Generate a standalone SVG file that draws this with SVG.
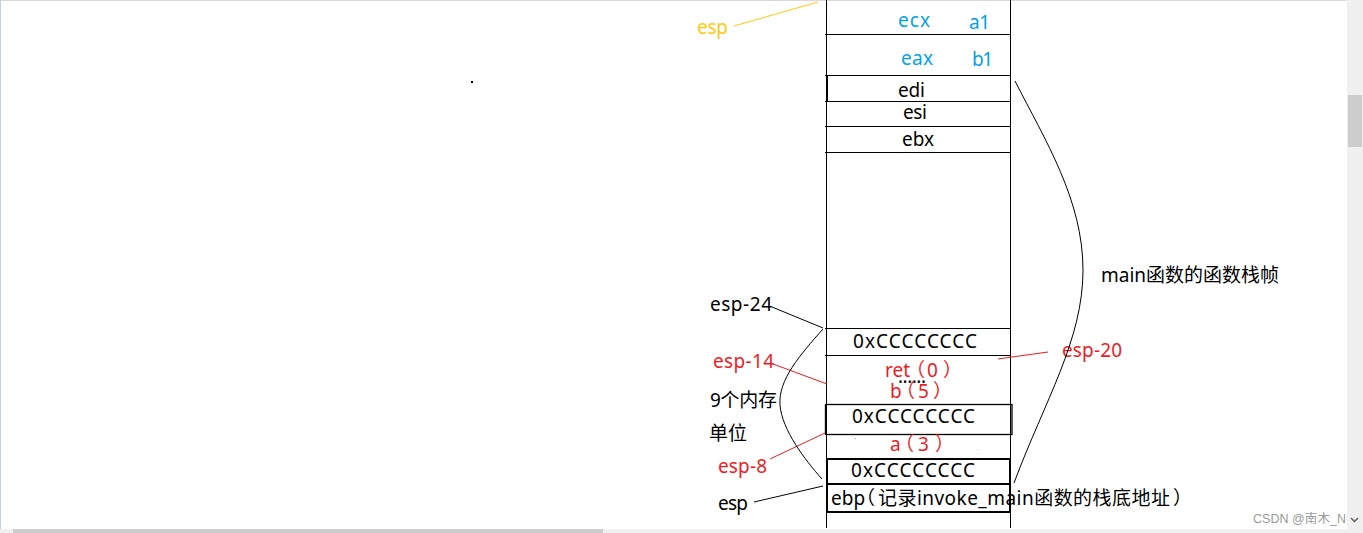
<svg xmlns="http://www.w3.org/2000/svg" width="1363" height="533" viewBox="0 0 1363 533">
<style>
.t{font-family:"Noto Sans","Noto Sans CJK SC",sans-serif;font-size:19px;fill:#000}
.r{fill:#ed1c24}
.b{fill:#00a2e8}
.y{fill:#ffc90e}
.ln{stroke:#000;stroke-width:1;fill:none}
.th{stroke:#000;stroke-width:2;fill:none}
.rl{stroke:#ed1c24;stroke-width:1;fill:none}
</style>
<rect width="1363" height="533" fill="#fff"/>
<line x1="0" y1="0.5" x2="1347" y2="0.5" stroke="#d9d9d9"/>
<line x1="0.5" y1="0" x2="0.5" y2="529" stroke="#c8d0de"/>
<rect x="471" y="81" width="2" height="2" fill="#000"/>

<g id="column">
<line class="ln" x1="826.5" y1="0" x2="826.5" y2="528"/>
<line class="ln" x1="1010.5" y1="0" x2="1010.5" y2="528"/>
</g>
<g id="cell-ecx">
<line class="ln" x1="825" y1="34.5" x2="1011" y2="34.5"/>
<text class="t b" x="898" y="27" textLength="32">ecx</text>
<text class="t b" x="969" y="29" textLength="21">a1</text>
</g>
<g id="cell-eax">
<text class="t b" x="901" y="65" textLength="32">eax</text>
<text class="t b" x="972" y="66" textLength="21">b1</text>
</g>
<g id="cell-edi">
<line class="ln" x1="825" y1="75.5" x2="1011" y2="75.5"/>
<line class="th" x1="827" y1="75" x2="827" y2="102"/>
<text class="t" x="898" y="97" textLength="27">edi</text>
</g>
<g id="cell-esi">
<line class="ln" x1="825" y1="101.5" x2="1011" y2="101.5"/>
<text class="t" x="903" y="119" textLength="24">esi</text>
</g>
<g id="cell-ebx">
<line class="ln" x1="825" y1="126.5" x2="1011" y2="126.5"/>
<line class="ln" x1="825" y1="152.5" x2="1011" y2="152.5"/>
<text class="t" x="902" y="146" textLength="32">ebx</text>
</g>
<g id="cell-cc1">
<line class="ln" x1="825" y1="328.5" x2="1011" y2="328.5"/>
<line class="ln" x1="825" y1="355.5" x2="1011" y2="355.5"/>
<text class="t" x="853" y="348" textLength="124">0xCCCCCCCC</text>
</g>
<g id="cell-ret-b">
<text class="t r" x="885" y="377">ret<tspan x="906">（</tspan><tspan x="927">0</tspan><tspan x="943">）</tspan></text>
<text class="t" x="898" y="383" textLength="28">......</text>
<text class="t r" x="890" y="398">b<tspan x="896">（</tspan><tspan x="918">5</tspan><tspan x="933">）</tspan></text>
</g>
<g id="cell-cc2">
<rect x="825.5" y="404.5" width="186.5" height="30" fill="none" stroke="#000" stroke-width="1.3"/>
<text class="t" x="852" y="423" textLength="123">0xCCCCCCCC</text>
</g>
<g id="cell-a">
<text class="t r" x="890" y="451">a<tspan x="895">（</tspan><tspan x="918">3</tspan><tspan x="935">）</tspan></text>
<rect x="855" y="438" width="1" height="1" fill="#f08080"/>
<rect x="977" y="449" width="1" height="1" fill="#9fe0f5"/>
</g>
<g id="cell-cc3">
<rect x="827" y="459" width="183" height="25" class="th"/>
<text class="t" x="851" y="477" textLength="124">0xCCCCCCCC</text>
</g>
<g id="cell-ebp">
<rect x="827" y="484" width="183" height="28" class="th"/>
<text class="t" x="831" y="505">ebp<tspan x="856">（</tspan><tspan x="878" textLength="292">记录invoke_main函数的栈底地址</tspan><tspan x="1173">）</tspan></text>
</g>

<g id="labels">
<text class="t y" x="697" y="34" textLength="31">esp</text>
<text class="t" x="1101" y="282" textLength="178">main函数的函数栈帧</text>
<text class="t" x="710" y="311" textLength="62">esp-24</text>
<text class="t r" x="713" y="368" textLength="61">esp-14</text>
<text class="t r" x="1062" y="357" textLength="60">esp-20</text>
<text class="t" x="710" y="407" textLength="67">9个内存</text>
<text class="t" x="709" y="440" textLength="38">单位</text>
<text class="t r" x="718" y="473" textLength="49">esp-8</text>
<text class="t" x="718" y="510" textLength="30">esp</text>
</g>

<g id="connectors">
<line x1="734" y1="26" x2="818" y2="2" stroke="#ffc90e" stroke-width="1"/>
<line class="ln" x1="772" y1="307" x2="823" y2="328"/>
<line class="rl" x1="773" y1="364" x2="827" y2="384"/>
<line class="rl" x1="998" y1="359" x2="1048" y2="352"/>
<line class="rl" x1="770" y1="459" x2="825" y2="433"/>
<line class="ln" x1="754" y1="502" x2="823" y2="486"/>
<path class="ln" d="M1015,81 C1045,140 1083,200 1083,270 C1083,340 1045,400 1014,483"/>
<path class="ln" d="M823,329 C800,355 778,380 780,405 C782,430 805,460 822,479"/>
</g>

<g id="chrome">
<rect x="1347" y="0" width="16" height="533" fill="#f0f0f0"/>
<rect x="1348" y="95" width="14" height="52" fill="#cdcdcd"/>
<rect x="0" y="529" width="1347" height="4" fill="#f0f0f0"/>
<rect x="13" y="529" width="590" height="4" fill="#cdcdcd"/>
<text x="1253" y="523" font-family="'Liberation Sans','Noto Sans CJK SC',sans-serif" font-size="12.5" fill="#9a9a9a" textLength="93">CSDN @南木_N</text>
<polyline points="1351,518 1354.5,521.5 1358,518" fill="none" stroke="#606060" stroke-width="1.5"/>
</g>
</svg>
